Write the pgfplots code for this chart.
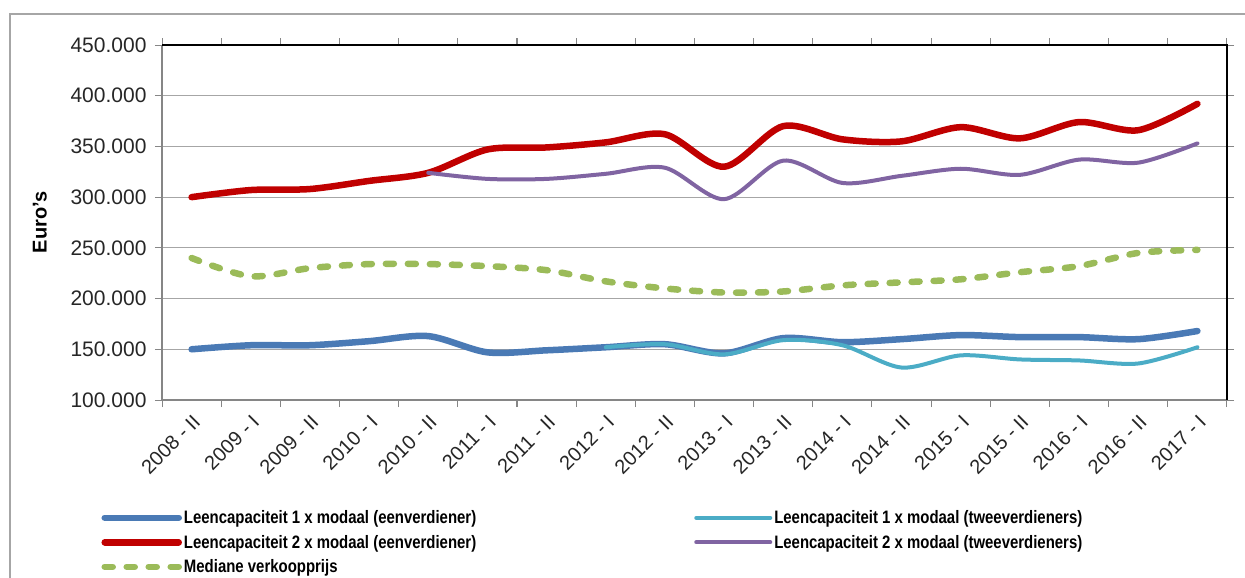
\documentclass[border=0pt]{standalone}
\usepackage{fontspec}
\setmainfont{Liberation Sans}
\newfontfamily\legendfont[FakeStretch=0.83]{Liberation Sans}
\usepackage{pgfplots}
\pgfplotsset{compat=1.18}

\definecolor{cDark}{HTML}{4A7AB5}
\definecolor{cLight}{HTML}{4BACC6}
\definecolor{cRed}{HTML}{C00000}
\definecolor{cPurple}{HTML}{8064A2}
\definecolor{cGreen}{HTML}{9BBB59}
\definecolor{cGrid}{HTML}{A6A6A6}
\definecolor{cAxis}{HTML}{868686}

\begin{document}
\begin{tikzpicture}[x=1pt,y=1pt]
\useasboundingbox (0,0) rectangle (1245,-578);
\draw[cGrid, line width=1.5] (10,-14) rectangle (1300,-700);
\begin{axis}[
  at={(162pt,-400pt)}, anchor=south west,
  scale only axis, width=1065pt, height=355pt,
  xmin=-0.5, xmax=17.5, ymin=100000, ymax=450000,
  axis line style={draw=none},
  xtick={-0.5,0.5,...,17.5},
  x tick label as interval,
  xticklabels={2008 - II,2009 - I,2009 - II,2010 - I,2010 - II,2011 - I,2011 - II,2012 - I,2012 - II,2013 - I,2013 - II,2014 - I,2014 - II,2015 - I,2015 - II,2016 - I,2016 - II,2017 - I},
  x tick label style={yshift=-6pt, rotate=45, anchor=north east, font=\fontsize{20}{22}\selectfont, text=black!85, inner sep=0pt},
  ytick={100000,150000,...,450000},
  scaled y ticks=false,
  /pgf/number format/fixed,
  /pgf/number format/1000 sep={.},
  /pgf/number format/assume math mode=true,
  y tick label style={font=\fontsize{21}{24}\selectfont, text=black!85, xshift=-5pt},
  tick align=outside, major tick length=7pt,
  tick style={cAxis, line width=1},
  ymajorgrids, grid style={cGrid, line width=1},
  ylabel={Euro's},
  ylabel style={font=\bfseries\fontsize{20}{24}\selectfont, at={(axis description cs:-0.1146,0.5)}, anchor=center},
  legend columns=2,
  legend cell align=left,
  legend style={draw=none, fill=none, at={(axis description cs:-0.057,-0.305)}, anchor=north west,
    font=\legendfont\bfseries\fontsize{18}{20}\selectfont, inner sep=0pt, row sep=6pt,
    /tikz/every even column/.append style={column sep=216pt}},
  legend image code/.code={\draw[#1] (0pt,0pt) -- (74pt,0pt);},
]
% 1 x modaal eenverdiener
\addplot[cDark, line width=6.5, smooth, line cap=round] coordinates {
 (0,150000) (1,154000) (2,154000) (3,158000) (4,163000) (5,147000) (6,149000) (7,152000) (8,155000)
 (9,146000) (10,161000) (11,157000) (12,160000) (13,164000) (14,162000) (15,162000) (16,160000) (17,168000)};
\addlegendentry{Leencapaciteit 1 x modaal (eenverdiener)}
% 1 x modaal tweeverdieners
\addplot[cLight, line width=4, smooth, line cap=round] coordinates {
 (7,152000) (8,155000) (9,145000) (10,159000) (11,154000) (12,132000) (13,144000) (14,140000) (15,139000) (16,136000) (17,152000)};
\addlegendentry{Leencapaciteit 1 x modaal (tweeverdieners)}
% 2 x modaal eenverdiener
\addplot[cRed, line width=6.5, smooth, line cap=round] coordinates {
 (0,300000) (1,307000) (2,308000) (3,316000) (4,324000) (5,347000) (6,349000) (7,354000) (8,362000)
 (9,330000) (10,370000) (11,357000) (12,355000) (13,369000) (14,358000) (15,374000) (16,366000) (17,392000)};
\addlegendentry{Leencapaciteit 2 x modaal (eenverdiener)}
% 2 x modaal tweeverdieners
\addplot[cPurple, line width=4, smooth, line cap=round] coordinates {
 (4,324000) (5,318000) (6,318000) (7,323000) (8,329000) (9,298000) (10,336000) (11,314000) (12,321000)
 (13,328000) (14,322000) (15,337000) (16,334000) (17,353000)};
\addlegendentry{Leencapaciteit 2 x modaal (tweeverdieners)}
% mediane verkoopprijs
\addplot[cGreen, line width=6.5, smooth, line cap=round, dash pattern=on 8pt off 14pt] coordinates {
 (0,240000) (1,222000) (2,230000) (3,234000) (4,234000) (5,232000) (6,228000) (7,217000) (8,210000)
 (9,206000) (10,207000) (11,213000) (12,216000) (13,219000) (14,226000) (15,232000) (16,245000) (17,248000)};
\addlegendentry{Mediane verkoopprijs}
\end{axis}
\draw[cAxis, line width=1.2] (162,-45) -- (162,-400) -- (1227,-400);
\draw[black, line width=1.5] (162,-45) -- (1227,-45) -- (1227,-400);
\end{tikzpicture}
\end{document}
